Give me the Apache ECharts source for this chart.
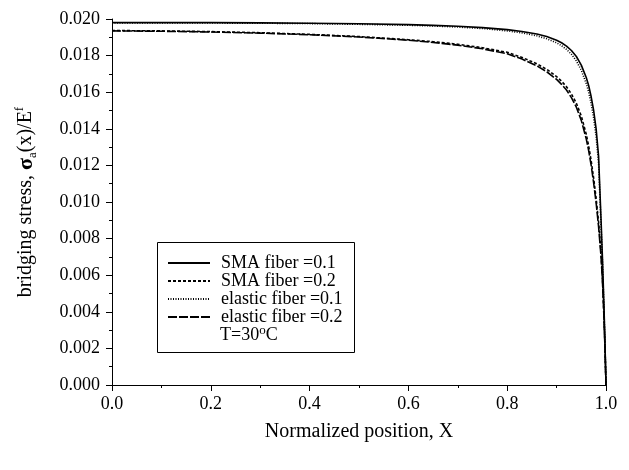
<!DOCTYPE html>
<html>
<head>
<meta charset="utf-8">
<script src="https://cdn.jsdelivr.net/npm/echarts@6/dist/echarts.min.js"></script>
<style>html,body{margin:0;padding:0;background:#fff;}#c{width:629px;height:470px;}</style>
</head>
<body>
<div id="c"></div>
<script>
var positions = [0, 0.1, 0.2, 0.3, 0.4, 0.5, 0.6, 0.65, 0.7, 0.75, 0.8, 0.83, 0.86, 0.88, 0.9, 0.91, 0.92, 0.93, 0.94, 0.95, 0.96, 0.965, 0.97, 0.975, 0.98, 0.985, 0.99, 0.993, 0.996, 0.998, 1.0];
var smaFiber01 = [0.01980,0.01980,0.01980,0.01979,0.01977,0.01974,0.01969,0.01965,0.01960,0.01953,0.01942,0.01932,0.01918,0.01904,0.01884,0.01870,0.01852,0.01828,0.01795,0.01748,0.01680,0.01635,0.01575,0.01500,0.01400,0.01250,0.00900,0.00680,0.00420,0.00220,0];
var smaFiber02 = [0.01937,0.01935,0.01931,0.01925,0.01916,0.01904,0.01887,0.01876,0.01862,0.01843,0.01818,0.01790,0.01755,0.01725,0.01685,0.01660,0.01630,0.01590,0.01540,0.01470,0.01370,0.01305,0.01225,0.01130,0.01020,0.00890,0.00720,0.00570,0.00370,0.00200,0];
var elasticFiber01 = [0.01978,0.01978,0.01978,0.01977,0.01975,0.01971,0.01966,0.01962,0.01956,0.01948,0.01935,0.01924,0.01908,0.01892,0.01870,0.01854,0.01834,0.01807,0.01771,0.01720,0.01648,0.01600,0.01537,0.01460,0.01358,0.01210,0.00870,0.00660,0.00400,0.00210,0];
var elasticFiber02 = [0.01935,0.01933,0.01929,0.01923,0.01914,0.01902,0.01884,0.01872,0.01857,0.01837,0.01810,0.01781,0.01744,0.01712,0.01670,0.01643,0.01612,0.01570,0.01518,0.01446,0.01345,0.01280,0.01200,0.01105,0.00995,0.00865,0.00700,0.00555,0.00360,0.00195,0];
var seriesNames = ['SMA fiber =0.1', 'SMA fiber =0.2', 'elastic fiber =0.1', 'elastic fiber =0.2'];
var seriesValues = [smaFiber01, smaFiber02, elasticFiber01, elasticFiber02];
var dashTypes = ['solid', [3, 2], [1, 1.5], [9, 2]];

var FONT = 'Liberation Serif';
function pairs(vals) { return positions.map(function (x, i) { return [x, vals[i]]; }); }

var chart = echarts.init(document.getElementById('c'), null, {renderer: 'canvas'});
chart.setOption({
  animation: false,
  backgroundColor: '#fff',
  grid: {left: 112, right: 23, top: 19, bottom: 85},
  xAxis: {
    type: 'value', min: 0, max: 1, interval: 0.2,
    name: 'Normalized position, X', nameLocation: 'middle', nameGap: 37,
    nameTextStyle: {fontFamily: FONT, fontSize: 20, color: '#000'},
    axisLine: {lineStyle: {color: '#000', width: 1}},
    axisTick: {show: true, inside: false, length: 6, lineStyle: {color: '#000'}},
    minorTick: {show: true, splitNumber: 2, length: 3, lineStyle: {color: '#000'}},
    axisLabel: {fontFamily: FONT, fontSize: 18, color: '#000', margin: 10,
      formatter: function (v) { return v.toFixed(1); }},
    splitLine: {show: false}
  },
  yAxis: {
    type: 'value', min: 0, max: 0.02, interval: 0.002,
    name: '{t|bridging stress, }{g|σ}{sub|a}{t|(x)/E}{sup|f}', nameLocation: 'middle', nameGap: 73,
    nameTextStyle: {fontFamily: FONT, fontSize: 20, color: '#000',
      rich: {
        t: {fontFamily: FONT, fontSize: 20, color: '#000', lineHeight: 26, verticalAlign: 'middle'},
        g: {fontFamily: FONT, fontSize: 22, fontWeight: 'bold', color: '#000', lineHeight: 26, verticalAlign: 'middle'},
        sub: {fontFamily: FONT, fontSize: 13, color: '#000', lineHeight: 26, verticalAlign: 'bottom'},
        sup: {fontFamily: FONT, fontSize: 13, color: '#000', lineHeight: 26, verticalAlign: 'top'}
      }},
    axisLine: {show: true, lineStyle: {color: '#000', width: 1}},
    axisTick: {show: true, inside: false, length: 6, lineStyle: {color: '#000'}},
    minorTick: {show: true, splitNumber: 2, length: 3, lineStyle: {color: '#000'}},
    axisLabel: {fontFamily: FONT, fontSize: 18, color: '#000', margin: 12,
      formatter: function (v) { return v.toFixed(3); }},
    splitLine: {show: false}
  },
  legend: {
    orient: 'vertical', left: 167, top: 254,
    itemWidth: 42, itemHeight: 18, itemGap: 0,
    padding: 0,
    itemStyle: {opacity: 0},
    textStyle: {fontFamily: FONT, fontSize: 18, color: '#000', padding: [0, 0, 0, 6]},
    data: seriesNames
  },
  graphic: [
    {type: 'rect', left: 155, top: 240, shape: {width: 197, height: 110},
      style: {fill: 'none', stroke: '#000', lineWidth: 1}, z: 10},
    {type: 'text', left: 220, top: 324,
      style: {text: '{a|T=30}{s|o}{a|C}', fill: '#000',
        rich: {
          a: {fontFamily: FONT, fontSize: 18, fill: '#000', lineHeight: 20, verticalAlign: 'bottom'},
          s: {fontFamily: FONT, fontSize: 13, fill: '#000', lineHeight: 20, verticalAlign: 'top'}
        }}, z: 10}
  ],
  series: seriesNames.map(function (n, i) {
    return {
      name: n, type: 'line', data: pairs(seriesValues[i]),
      symbol: 'none', smooth: false,
      lineStyle: {color: '#000', width: 1.6, type: dashTypes[i]},
      itemStyle: {color: '#000'}
    };
  })
});
</script>
</body>
</html>
